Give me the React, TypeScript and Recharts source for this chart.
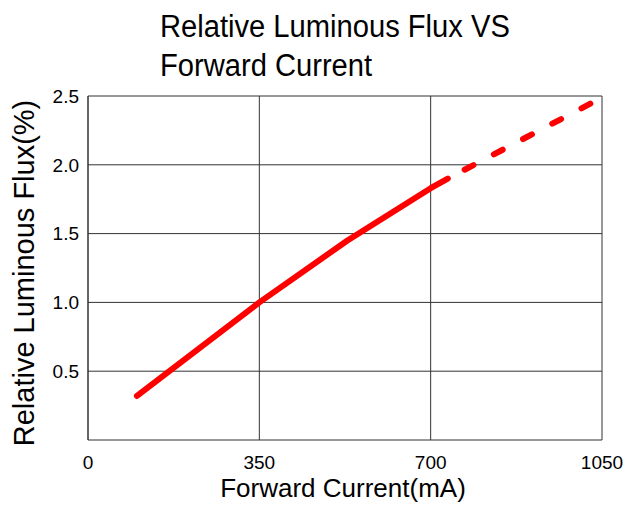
import { LineChart, Line, XAxis, YAxis, CartesianGrid, Label } from 'recharts';

// measured curve (solid part) and extrapolated part (dashed)
const measuredCurrent = [100, 350, 530, 700, 735];
const measuredFlux = [0.32, 1.0, 1.45, 1.83, 1.9];
const projectedCurrent = [735, 1040];
const projectedFlux = [1.9, 2.47];

const xTicks = [0, 350, 700, 1050];
const yTicks = [0.5, 1.0, 1.5, 2.0, 2.5];

const FONT = '"Liberation Sans", Arial, sans-serif';

const measured = measuredCurrent.map((x, i) => ({ x, y: measuredFlux[i] }));
const projected = projectedCurrent.map((x, i) => ({ x, y: projectedFlux[i] }));

export default function App() {
  return (
    <div style={{ position: 'absolute', left: 0, top: 0, width: 635, height: 511, background: '#fff', fontFamily: FONT }}>
      {/* Title */}
      <div
        style={{
          position: 'absolute',
          left: 160,
          top: 7,
          fontSize: 31,
          lineHeight: '39px',
          color: '#000',
          transform: 'scaleX(0.94)',
          transformOrigin: 'left top',
          whiteSpace: 'nowrap',
        }}
      >
        Relative Luminous Flux VS
        <br />
        Forward Current
      </div>

      <LineChart width={635} height={511} margin={{ top: 96, right: 33, left: 0, bottom: 0 }}>
        <CartesianGrid stroke="#333" strokeWidth={1} horizontalValues={yTicks} verticalValues={xTicks} />
        <XAxis
          type="number"
          dataKey="x"
          domain={[0, 1050]}
          ticks={xTicks}
          height={71}
          tickSize={0}
          tickMargin={16}
          axisLine={{ stroke: '#333' }}
          tick={{ fontSize: 19, fill: '#000', fontFamily: FONT }}
        >
          <Label
            content={() => (
              <text x={343} y={497} textAnchor="middle" fontSize={26} fill="#000" fontFamily={FONT}>
                Forward Current(mA)
              </text>
            )}
          />
        </XAxis>
        <YAxis
          type="number"
          dataKey="y"
          domain={[0, 2.5]}
          ticks={yTicks}
          width={88}
          tickSize={0}
          tickMargin={9}
          axisLine={{ stroke: '#333' }}
          tickFormatter={(v: number) => v.toFixed(1)}
          tick={{ fontSize: 19, fill: '#000', fontFamily: FONT }}
        >
          <Label
            content={() => (
              <text
                x={24}
                y={273}
                transform="rotate(-90 24 273)"
                textAnchor="middle"
                dominantBaseline="central"
                fontSize={29}
                fill="#000"
                fontFamily={FONT}
              >
                Relative Luminous Flux(%)
              </text>
            )}
          />
        </YAxis>
        <Line
          data={measured}
          dataKey="y"
          type="linear"
          stroke="#ff0000"
          strokeWidth={6}
          strokeLinecap="round"
          strokeLinejoin="round"
          dot={false}
          activeDot={false}
          isAnimationActive={false}
        />
        <Line
          data={projected}
          dataKey="y"
          type="linear"
          stroke="#ff0000"
          strokeWidth={6}
          strokeLinecap="round"
          strokeDasharray="10 23"
          strokeDashoffset={14}
          dot={false}
          activeDot={false}
          isAnimationActive={false}
        />
      </LineChart>
    </div>
  );
}
